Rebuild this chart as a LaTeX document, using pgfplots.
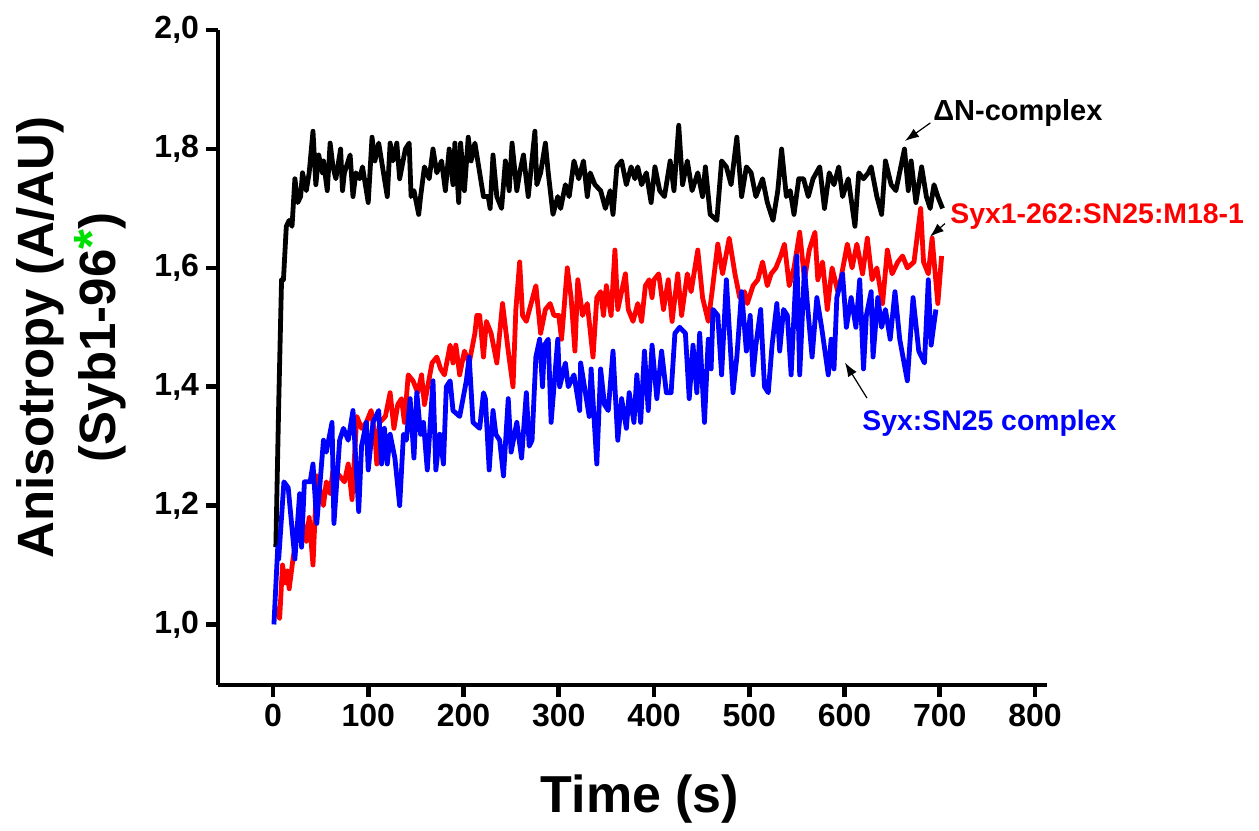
\documentclass[border=0pt]{standalone}
\usepackage{fontspec}
\setmainfont{Liberation Sans}
\usepackage{pgfplots}
\pgfplotsset{compat=1.18}
\usetikzlibrary{arrows.meta}
\definecolor{stargreen}{HTML}{00E000}

\begin{document}
\begin{tikzpicture}
\begin{axis}[
  scale only axis, width=414.5pt, height=327.5pt,
  xmin=-57.7, xmax=812.5, ymin=0.898, ymax=2.0,
  axis x line*=bottom, axis y line*=left,
  axis line style={line width=2.3pt,-},
  xtick={0,100,200,300,400,500,600,700,800},
  ytick={1.0,1.2,1.4,1.6,1.8,2.0},
  tick align=outside, major tick length=6pt,
  tick style={line width=2.3pt,black},
  minor tick num=0,
  /pgf/number format/assume math mode=true,
  yticklabel style={/pgf/number format/.cd,fixed,fixed zerofill,precision=1,use comma},
  tick label style={font=\fontsize{16}{18}\selectfont\bfseries},
  xlabel={Time (s)},
  xlabel style={at={(axis description cs:0.509,-0.195)},anchor=base,
    font=\fontsize{26}{30}\selectfont\bfseries},
  ylabel={Anisotropy (A/AU)\\(Syb1-96\raisebox{0.12em}{\textcolor{stargreen}{*}})},
  ylabel style={align=center,at={(axis description cs:-0.177,0.531)},anchor=center,
    font=\fontsize{25.5}{31}\selectfont\bfseries},
  clip=false,
]
% invisible frame = full picture area
\path (axis cs:-286.6,0.6644) rectangle (axis cs:1035.2,2.0508);

% Delta N-complex
\addplot[black,line width=2.4pt,line join=round] coordinates {
(3,1.13) (6,1.37) (9,1.58) (11,1.58) (14,1.67) (17,1.68) (20,1.67) (23,1.75) (26,1.71) (29,1.72)
(31,1.76) (35,1.73) (38,1.76) (42,1.83) (45,1.74) (48,1.79) (52,1.76) (53,1.78) (57,1.73) (60,1.81)
(63,1.77) (66,1.75) (71,1.80) (73,1.73) (75,1.76) (81,1.79) (84,1.72) (87,1.76) (91,1.75) (94,1.77)
(100,1.71) (104,1.82) (107,1.78) (111,1.81) (115,1.77) (120,1.72) (123,1.81) (126,1.78) (130,1.81) (133,1.75)
(139,1.80) (143,1.81) (145,1.72) (148,1.73) (153,1.69) (155,1.72) (159,1.77) (164,1.75) (168,1.80) (172,1.76)
(177,1.78) (181,1.73) (185,1.80) (189,1.74) (191,1.81) (195,1.71) (197,1.81) (201,1.73) (205,1.82) (208,1.78)
(212,1.81) (218,1.75) (221,1.72) (226,1.72) (228,1.70) (231,1.79) (235,1.72) (240,1.70) (244,1.78) (248,1.73)
(251,1.81) (256,1.73) (259,1.76) (263,1.79) (268,1.72) (275,1.83) (277,1.74) (281,1.76) (286,1.81) (289,1.76)
(294,1.69) (299,1.72) (302,1.70) (307,1.74) (311,1.72) (316,1.78) (321,1.75) (326,1.78) (330,1.72) (333,1.76)
(338,1.74) (344,1.73) (349,1.70) (354,1.73) (357,1.69) (361,1.77) (366,1.78) (371,1.74) (376,1.77) (380,1.75)
(383,1.77) (387,1.74) (392,1.76) (397,1.71) (401,1.77) (406,1.73) (411,1.72) (417,1.78) (421,1.73) (426,1.84)
(430,1.74) (435,1.78) (440,1.73) (446,1.76) (451,1.72) (454,1.77) (459,1.69) (466,1.68) (471,1.78) (476,1.77)
(481,1.74) (487,1.82) (492,1.72) (497,1.77) (502,1.76) (507,1.72) (514,1.75) (519,1.71) (525,1.68) (530,1.73)
(534,1.80) (539,1.72) (543,1.73) (547,1.69) (552,1.75) (557,1.75) (562,1.72) (567,1.75) (574,1.77) (579,1.70)
(584,1.76) (589,1.74) (594,1.77) (598,1.72) (604,1.75) (611,1.67) (615,1.76) (620,1.75) (625,1.76) (628,1.77)
(634,1.72) (639,1.69) (643,1.78) (649,1.74) (654,1.73) (663,1.80) (667,1.73) (670,1.78) (675,1.71) (681,1.77)
(686,1.72) (690,1.70) (694,1.74) (698,1.72) (703,1.70)
};

% Syx1-262:SN25:M18-1
\addplot[red,line width=2.4pt,line join=round] coordinates {
(2,1.03) (7,1.01) (10,1.10) (13,1.07) (15,1.09) (17,1.06) (21,1.11) (24,1.14) (30,1.18) (35,1.14)
(38,1.18) (42,1.10) (46,1.25) (53,1.20) (56,1.24) (60,1.22) (63,1.26) (70,1.25) (75,1.24) (79,1.27)
(83,1.21) (88,1.35) (93,1.33) (98,1.34) (103,1.36) (107,1.32) (109,1.27) (112,1.34) (118,1.35) (123,1.39)
(127,1.33) (131,1.37) (135,1.38) (138,1.34) (142,1.42) (147,1.41) (152,1.39) (156,1.42) (159,1.37) (167,1.44)
(172,1.45) (176,1.43) (180,1.42) (186,1.47) (189,1.44) (192,1.47) (196,1.42) (201,1.46) (206,1.44) (212,1.49)
(214,1.52) (217,1.52) (221,1.45) (224,1.51) (229,1.49) (235,1.44) (241,1.54) (247,1.46) (252,1.40) (255,1.53)
(259,1.61) (262,1.52) (266,1.51) (271,1.54) (276,1.57) (281,1.49) (286,1.53) (291,1.54) (295,1.52) (300,1.52)
(303,1.48) (309,1.60) (313,1.55) (317,1.46) (320,1.58) (325,1.52) (330,1.54) (336,1.45) (340,1.55) (344,1.56)
(347,1.52) (350,1.57) (355,1.52) (359,1.63) (362,1.53) (366,1.56) (370,1.59) (373,1.53) (378,1.51) (383,1.54)
(387,1.51) (391,1.57) (395,1.58) (398,1.55) (400,1.58) (405,1.59) (410,1.53) (415,1.58) (419,1.51) (425,1.59)
(429,1.52) (435,1.59) (439,1.56) (446,1.63) (451,1.55) (457,1.51) (461,1.56) (467,1.64) (472,1.59) (479,1.65)
(485,1.59) (490,1.55) (495,1.56) (498,1.54) (504,1.57) (509,1.58) (514,1.61) (519,1.57) (523,1.59) (528,1.60)
(533,1.62) (537,1.64) (542,1.57) (547,1.60) (553,1.66) (558,1.58) (563,1.63) (569,1.66) (572,1.58) (577,1.61)
(582,1.53) (587,1.60) (593,1.56) (596,1.58) (603,1.64) (608,1.60) (613,1.64) (619,1.59) (624,1.65) (629,1.58)
(634,1.60) (640,1.54) (645,1.63) (650,1.59) (656,1.61) (661,1.62) (666,1.60) (673,1.61) (680,1.70) (683,1.61)
(688,1.59) (692,1.65) (698,1.54) (702,1.62)
};

% Syx:SN25 complex
\addplot[blue,line width=2.4pt,line join=round] coordinates {
(1,1.00) (5,1.13) (6,1.11) (11.5,1.24) (16,1.23) (23,1.11) (28,1.22) (30,1.13) (33,1.24) (39,1.24)
(42,1.27) (46,1.17) (53,1.31) (56,1.29) (62,1.34) (64,1.17) (70,1.31) (74,1.33) (79,1.31) (84,1.36)
(90,1.19) (93,1.30) (98,1.34) (100,1.26) (105,1.34) (111,1.36) (114,1.27) (117,1.33) (120,1.27) (123,1.32)
(128,1.28) (133,1.20) (137,1.32) (140,1.31) (144,1.38) (148,1.28) (151,1.39) (155,1.32) (158,1.34) (162,1.26)
(168,1.41) (171,1.26) (175,1.32) (179,1.27) (182,1.40) (186,1.41) (189,1.36) (196,1.35) (203,1.41) (206,1.45)
(210,1.34) (217,1.33) (221,1.39) (223,1.38) (227,1.26) (231,1.36) (234,1.32) (238,1.31) (242,1.25) (247,1.38)
(250,1.29) (256,1.34) (261,1.28) (266,1.39) (269,1.30) (272,1.31) (276,1.45) (280,1.48) (283,1.40) (285,1.47)
(289,1.48) (292,1.34) (295,1.40) (299,1.48) (301,1.40) (307,1.44) (310,1.40) (316,1.42) (322,1.36) (323,1.44)
(327,1.40) (332,1.35) (334,1.43) (340,1.27) (344,1.43) (348,1.37) (352,1.36) (357,1.46) (362,1.31) (366,1.38)
(371,1.33) (374,1.39) (379,1.34) (382,1.42) (386,1.34) (390,1.46) (394,1.36) (398,1.47) (403,1.38) (408,1.46)
(413,1.39) (418,1.39) (422,1.49) (427,1.50) (433,1.49) (437,1.38) (441,1.47) (445,1.39) (448,1.49) (453,1.34)
(457,1.48) (460,1.43) (462,1.53) (467,1.52) (471,1.42) (476,1.58) (483,1.39) (487,1.45) (492,1.56) (497,1.46)
(501,1.52) (504,1.42) (507,1.47) (512,1.53) (516,1.40) (520,1.39) (524,1.47) (529,1.54) (532,1.46) (536,1.53)
(540,1.52) (544,1.42) (550,1.62) (553,1.42) (558,1.60) (561,1.54) (566,1.45) (571,1.55) (576,1.50) (583,1.42)
(586,1.48) (589,1.43) (592,1.55) (598,1.59) (602,1.50) (607,1.55) (612,1.50) (616,1.58) (620,1.43) (623,1.52)
(628,1.56) (630,1.45) (635,1.55) (639,1.50) (643,1.53) (648,1.48) (653,1.56) (658,1.48) (666,1.41) (672,1.55)
(678,1.46) (684,1.44) (688,1.58) (691,1.47) (696,1.53)
};

% annotations
\node[anchor=base west,inner sep=0pt,font=\fontsize{14.5}{17}\selectfont\bfseries,text=black]
  at (axis cs:692.9,1.8475) {ΔN-complex};
\draw[line width=0.6pt,-{Latex[length=7pt,width=5pt]}] (axis cs:690.2,1.844) -- (axis cs:663.5,1.8136);
\node[anchor=base west,inner sep=0pt,font=\fontsize{14.2}{17}\selectfont\bfseries,text=red]
  at (axis cs:710.8,1.6746) {Syx1-262:SN25:M18-1};
\draw[line width=0.6pt,-{Latex[length=7pt,width=5pt]}] (axis cs:705.5,1.6746) -- (axis cs:689.8,1.6525);
\node[anchor=base west,inner sep=0pt,font=\fontsize{14.2}{17}\selectfont\bfseries,text=blue]
  at (axis cs:618.4,1.327) {Syx:SN25 complex};
\draw[line width=0.6pt,-{Latex[length=7pt,width=5pt]}] (axis cs:623.6,1.381) -- (axis cs:600.5,1.4407);
\end{axis}
\end{tikzpicture}
\end{document}
